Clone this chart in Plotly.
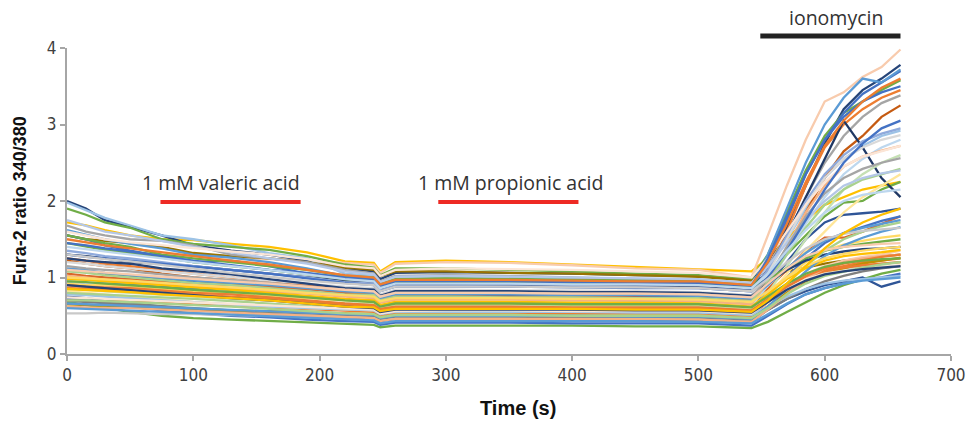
import plotly.graph_objects as go

# Time points (s)
time_s = [0, 15, 30, 50, 75, 100, 130, 160, 190, 220, 243, 248, 260, 300, 350, 400, 450, 500,
          542, 555, 570, 585, 600, 615, 630, 645, 660]

# Fura-2 ratio 340/380 per cell
cell_01 = [1.72, 1.68, 1.62, 1.55, 1.50, 1.49, 1.44, 1.40, 1.33, 1.21, 1.19, 1.08, 1.20, 1.22, 1.20, 1.17, 1.14, 1.11,
           1.08, 1.25, 1.50, 1.75, 1.95, 2.05, 2.15, 2.20, 2.25]
cell_02 = [1.45, 1.42, 1.38, 1.33, 1.30, 1.28, 1.26, 1.24, 1.22, 1.19, 1.17, 1.06, 1.18, 1.20, 1.19, 1.16, 1.12, 1.10,
           1.00, 1.55, 2.20, 2.80, 3.30, 3.42, 3.62, 3.75, 3.98]
cell_03 = [2.00, 1.90, 1.75, 1.66, 1.55, 1.42, 1.35, 1.30, 1.22, 1.12, 1.08, 0.98, 1.06, 1.07, 1.06, 1.05, 1.03, 1.02,
           0.98, 1.20, 1.65, 2.20, 2.75, 3.20, 3.45, 3.60, 3.78]
cell_04 = [1.98, 1.88, 1.78, 1.68, 1.55, 1.50, 1.42, 1.32, 1.25, 1.05, 1.02, 0.92, 1.00, 1.01, 1.00, 0.99, 0.98, 0.97,
           0.92, 1.15, 1.50, 1.90, 2.30, 2.55, 2.72, 2.85, 2.92]
cell_05 = [1.90, 1.82, 1.72, 1.65, 1.50, 1.44, 1.40, 1.36, 1.28, 1.17, 1.13, 1.03, 1.12, 1.12, 1.10, 1.08, 1.05, 1.03,
           0.98, 1.30, 1.85, 2.40, 2.85, 3.15, 3.30, 3.45, 3.58]
cell_06 = [1.55, 1.50, 1.48, 1.45, 1.40, 1.32, 1.28, 1.25, 1.20, 1.13, 1.10, 1.02, 1.08, 1.08, 1.06, 1.05, 1.03, 1.01,
           0.96, 1.02, 1.08, 1.13, 1.18, 1.22, 1.25, 1.28, 1.30]
cell_07 = [1.68, 1.60, 1.55, 1.50, 1.48, 1.42, 1.30, 1.25, 1.20, 1.10, 1.05, 0.95, 1.02, 1.03, 1.02, 1.00, 0.98, 0.96,
           0.92, 1.15, 1.55, 2.05, 2.50, 2.85, 3.10, 3.28, 3.38]
cell_08 = [1.55, 1.50, 1.42, 1.35, 1.28, 1.20, 1.22, 1.15, 1.05, 0.98, 0.95, 0.86, 0.93, 0.93, 0.92, 0.92, 0.91, 0.90,
           0.86, 1.20, 1.75, 2.35, 2.80, 3.15, 3.40, 3.55, 3.70]
cell_09 = [1.62, 1.56, 1.50, 1.44, 1.38, 1.30, 1.26, 1.20, 1.12, 1.02, 0.98, 0.88, 0.96, 0.97, 0.96, 0.95, 0.94, 0.93,
           0.88, 1.30, 1.90, 2.50, 3.00, 3.35, 3.60, 3.55, 3.72]
cell_10 = [1.25, 1.22, 1.18, 1.15, 1.10, 1.05, 1.00, 0.95, 0.90, 0.85, 0.82, 0.74, 0.80, 0.81, 0.80, 0.80, 0.79, 0.78,
           0.74, 1.05, 1.60, 2.20, 2.70, 3.00, 3.20, 3.35, 3.45]
cell_11 = [1.22, 1.18, 1.15, 1.12, 1.05, 1.00, 0.96, 0.92, 0.88, 0.84, 0.82, 0.75, 0.80, 0.80, 0.79, 0.78, 0.77, 0.76,
           0.73, 0.95, 1.35, 1.85, 2.30, 2.65, 2.85, 3.10, 3.25]
cell_12 = [1.55, 1.50, 1.45, 1.40, 1.30, 1.25, 1.20, 1.15, 1.10, 1.02, 1.00, 0.92, 0.98, 0.99, 0.98, 0.97, 0.96, 0.95,
           0.90, 1.05, 1.30, 1.55, 1.80, 1.98, 2.00, 2.15, 2.25]
cell_13 = [1.30, 1.28, 1.25, 1.20, 1.18, 1.15, 1.10, 1.05, 1.00, 0.95, 0.92, 0.84, 0.90, 0.90, 0.89, 0.88, 0.88, 0.87,
           0.84, 1.10, 1.55, 2.05, 2.55, 3.05, 2.70, 2.30, 2.05]
cell_14 = [1.10, 1.08, 1.05, 1.02, 0.98, 0.95, 0.92, 0.88, 0.85, 0.82, 0.80, 0.73, 0.78, 0.78, 0.77, 0.77, 0.76, 0.75,
           0.72, 0.90, 1.20, 1.50, 1.72, 1.82, 1.84, 1.86, 1.90]
cell_15 = [1.05, 1.02, 1.00, 0.98, 0.95, 0.92, 0.90, 0.88, 0.85, 0.80, 0.78, 0.72, 0.76, 0.76, 0.75, 0.75, 0.74, 0.73,
           0.70, 0.85, 1.10, 1.35, 1.52, 1.52, 1.60, 1.70, 1.80]
cell_16 = [0.95, 0.93, 0.92, 0.90, 0.88, 0.86, 0.84, 0.82, 0.80, 0.76, 0.74, 0.68, 0.72, 0.72, 0.72, 0.71, 0.70, 0.70,
           0.66, 0.80, 1.00, 1.25, 1.45, 1.58, 1.66, 1.74, 1.80]
cell_17 = [0.68, 0.64, 0.60, 0.55, 0.50, 0.47, 0.45, 0.43, 0.41, 0.39, 0.38, 0.35, 0.37, 0.37, 0.37, 0.37, 0.36, 0.36,
           0.34, 0.42, 0.55, 0.68, 0.80, 0.90, 0.98, 1.05, 1.10]
cell_18 = [0.72, 0.70, 0.66, 0.62, 0.57, 0.53, 0.50, 0.48, 0.45, 0.43, 0.42, 0.38, 0.41, 0.41, 0.41, 0.40, 0.40, 0.40,
           0.37, 0.50, 0.65, 0.78, 0.86, 0.92, 0.97, 1.00, 1.05]
cell_19 = [0.75, 0.73, 0.70, 0.67, 0.62, 0.58, 0.55, 0.52, 0.50, 0.48, 0.47, 0.43, 0.46, 0.46, 0.46, 0.45, 0.45, 0.45,
           0.42, 0.58, 0.72, 0.82, 0.90, 0.95, 1.00, 0.88, 0.95]
cell_20 = [0.53, 0.53, 0.54, 0.53, 0.52, 0.52, 0.51, 0.50, 0.50, 0.49, 0.49, 0.45, 0.48, 0.48, 0.48, 0.48, 0.47, 0.47,
           0.45, 0.62, 0.80, 0.95, 1.05, 1.10, 1.15, 1.18, 1.20]
cell_21 = [0.70, 0.69, 0.68, 0.70, 0.67, 0.65, 0.63, 0.60, 0.58, 0.56, 0.55, 0.51, 0.54, 0.54, 0.54, 0.53, 0.53, 0.53,
           0.50, 0.68, 0.88, 1.02, 1.10, 1.15, 1.20, 1.22, 1.25]
cell_22 = [0.82, 0.80, 0.78, 0.75, 0.72, 0.68, 0.65, 0.62, 0.60, 0.58, 0.57, 0.53, 0.56, 0.56, 0.56, 0.55, 0.55, 0.55,
           0.52, 0.75, 1.05, 1.35, 1.60, 1.85, 2.05, 2.20, 2.35]
cell_23 = [0.88, 0.86, 0.84, 0.82, 0.78, 0.76, 0.72, 0.70, 0.66, 0.63, 0.62, 0.57, 0.61, 0.61, 0.60, 0.60, 0.60, 0.59,
           0.56, 0.72, 0.90, 1.05, 1.15, 1.22, 1.27, 1.30, 1.35]
cell_24 = [0.85, 0.84, 0.82, 0.80, 0.77, 0.75, 0.72, 0.70, 0.68, 0.66, 0.65, 0.60, 0.64, 0.64, 0.63, 0.63, 0.63, 0.62,
           0.59, 0.80, 1.15, 1.50, 1.85, 2.15, 2.35, 2.50, 2.60]
cell_25 = [0.95, 0.93, 0.90, 0.88, 0.85, 0.82, 0.80, 0.77, 0.74, 0.71, 0.70, 0.64, 0.68, 0.68, 0.68, 0.67, 0.67, 0.66,
           0.62, 0.90, 1.30, 1.70, 2.05, 2.35, 2.55, 2.70, 2.80]
cell_26 = [0.70, 0.68, 0.67, 0.65, 0.62, 0.60, 0.57, 0.55, 0.53, 0.51, 0.50, 0.46, 0.49, 0.49, 0.49, 0.48, 0.48, 0.48,
           0.45, 0.58, 0.72, 0.85, 0.95, 1.02, 1.08, 1.12, 1.15]
cell_27 = [0.65, 0.64, 0.63, 0.62, 0.60, 0.59, 0.57, 0.56, 0.55, 0.53, 0.52, 0.48, 0.51, 0.51, 0.51, 0.50, 0.50, 0.50,
           0.47, 0.62, 0.80, 0.95, 1.05, 1.12, 1.18, 1.22, 1.26]
cell_28 = [1.12, 1.10, 1.06, 1.03, 1.00, 0.96, 0.93, 0.90, 0.86, 0.82, 0.80, 0.73, 0.78, 0.78, 0.78, 0.77, 0.77, 0.76,
           0.72, 0.90, 1.12, 1.32, 1.48, 1.58, 1.65, 1.70, 1.75]
cell_29 = [1.02, 1.00, 0.97, 0.95, 0.92, 0.88, 0.85, 0.82, 0.79, 0.75, 0.73, 0.67, 0.71, 0.71, 0.71, 0.70, 0.70, 0.69,
           0.65, 0.95, 1.40, 1.85, 2.20, 2.45, 2.58, 2.66, 2.72]
cell_30 = [1.08, 1.06, 1.03, 1.00, 0.96, 0.93, 0.90, 0.86, 0.82, 0.78, 0.77, 0.70, 0.75, 0.75, 0.74, 0.74, 0.73, 0.73,
           0.69, 0.95, 1.30, 1.65, 1.95, 2.15, 2.28, 2.35, 2.42]
cell_31 = [0.92, 0.90, 0.90, 0.88, 0.85, 0.82, 0.80, 0.76, 0.73, 0.70, 0.68, 0.62, 0.66, 0.66, 0.66, 0.65, 0.65, 0.65,
           0.61, 0.78, 1.00, 1.20, 1.35, 1.43, 1.48, 1.52, 1.55]
cell_32 = [1.35, 1.32, 1.28, 1.25, 1.20, 1.15, 1.10, 1.05, 1.00, 0.94, 0.92, 0.83, 0.89, 0.89, 0.88, 0.88, 0.87, 0.86,
           0.82, 1.10, 1.55, 2.00, 2.35, 2.60, 2.78, 2.88, 2.95]
cell_33 = [1.20, 1.18, 1.15, 1.12, 1.08, 1.04, 1.00, 0.96, 0.92, 0.88, 0.86, 0.78, 0.84, 0.84, 0.83, 0.83, 0.82, 0.81,
           0.77, 1.05, 1.50, 1.95, 2.30, 2.55, 2.70, 2.80, 2.86]
cell_34 = [1.45, 1.40, 1.36, 1.32, 1.26, 1.20, 1.15, 1.10, 1.04, 0.98, 0.96, 0.88, 0.94, 0.94, 0.93, 0.92, 0.92, 0.91,
           0.87, 0.98, 1.12, 1.25, 1.35, 1.40, 1.44, 1.47, 1.50]
cell_35 = [1.75, 1.68, 1.60, 1.55, 1.48, 1.40, 1.33, 1.25, 1.18, 1.08, 1.04, 0.94, 1.01, 1.02, 1.01, 1.00, 0.99, 0.98,
           0.93, 1.15, 1.45, 1.75, 2.00, 2.20, 2.30, 2.36, 2.40]
cell_36 = [0.90, 0.88, 0.87, 0.86, 0.83, 0.80, 0.78, 0.74, 0.70, 0.66, 0.64, 0.59, 0.62, 0.62, 0.62, 0.61, 0.61, 0.61,
           0.57, 0.72, 0.88, 1.00, 1.08, 1.13, 1.16, 1.18, 1.20]
cell_37 = [0.78, 0.77, 0.75, 0.73, 0.70, 0.68, 0.65, 0.62, 0.60, 0.58, 0.57, 0.52, 0.55, 0.55, 0.55, 0.55, 0.54, 0.54,
           0.51, 0.62, 0.75, 0.85, 0.92, 0.96, 0.98, 1.00, 1.02]
cell_38 = [1.60, 1.55, 1.50, 1.46, 1.42, 1.38, 1.34, 1.30, 1.24, 1.15, 1.12, 1.02, 1.10, 1.12, 1.11, 1.10, 1.08, 1.06,
           1.00, 1.25, 1.60, 1.95, 2.25, 2.45, 2.58, 2.65, 2.72]
cell_39 = [0.98, 0.97, 0.95, 0.93, 0.90, 0.87, 0.84, 0.80, 0.76, 0.72, 0.70, 0.64, 0.68, 0.68, 0.68, 0.67, 0.67, 0.66,
           0.62, 0.78, 0.98, 1.12, 1.22, 1.28, 1.31, 1.33, 1.36]
cell_40 = [1.25, 1.22, 1.20, 1.18, 1.12, 1.08, 1.04, 0.98, 0.92, 0.86, 0.84, 0.76, 0.82, 0.82, 0.82, 0.81, 0.81, 0.80,
           0.76, 0.92, 1.10, 1.22, 1.30, 1.34, 1.37, 1.38, 1.40]
cell_41 = [0.62, 0.61, 0.60, 0.60, 0.58, 0.56, 0.54, 0.52, 0.50, 0.48, 0.47, 0.43, 0.46, 0.46, 0.46, 0.46, 0.46, 0.45,
           0.42, 0.58, 0.78, 0.98, 1.12, 1.20, 1.25, 1.28, 1.30]
cell_42 = [0.66, 0.65, 0.64, 0.63, 0.61, 0.60, 0.58, 0.56, 0.54, 0.52, 0.51, 0.47, 0.50, 0.50, 0.50, 0.50, 0.49, 0.49,
           0.46, 0.62, 0.85, 1.08, 1.28, 1.42, 1.52, 1.60, 1.66]
cell_43 = [0.80, 0.79, 0.78, 0.76, 0.74, 0.72, 0.69, 0.66, 0.63, 0.60, 0.59, 0.54, 0.58, 0.58, 0.58, 0.57, 0.57, 0.57,
           0.53, 0.70, 0.92, 1.15, 1.35, 1.50, 1.60, 1.67, 1.72]
cell_44 = [1.15, 1.12, 1.10, 1.08, 1.04, 1.00, 0.97, 0.93, 0.88, 0.84, 0.82, 0.75, 0.80, 0.80, 0.80, 0.79, 0.79, 0.78,
           0.74, 1.00, 1.40, 1.80, 2.10, 2.30, 2.42, 2.50, 2.56]
cell_45 = [0.74, 0.73, 0.72, 0.71, 0.69, 0.67, 0.65, 0.63, 0.61, 0.59, 0.58, 0.53, 0.56, 0.57, 0.57, 0.56, 0.56, 0.56,
           0.53, 0.68, 0.85, 0.98, 1.05, 1.09, 1.12, 1.14, 1.16]
cell_46 = [1.30, 1.27, 1.25, 1.22, 1.18, 1.14, 1.10, 1.05, 0.99, 0.93, 0.90, 0.82, 0.88, 0.88, 0.88, 0.87, 0.86, 0.86,
           0.82, 1.00, 1.35, 1.75, 2.15, 2.50, 2.75, 2.95, 3.05]
cell_47 = [0.86, 0.85, 0.84, 0.83, 0.80, 0.78, 0.75, 0.72, 0.68, 0.64, 0.62, 0.57, 0.61, 0.61, 0.60, 0.60, 0.60, 0.59,
           0.56, 0.70, 0.88, 1.02, 1.12, 1.18, 1.23, 1.27, 1.30]
cell_48 = [0.70, 0.70, 0.69, 0.68, 0.66, 0.64, 0.62, 0.59, 0.56, 0.53, 0.52, 0.48, 0.51, 0.51, 0.51, 0.50, 0.50, 0.50,
           0.47, 0.60, 0.78, 0.92, 1.02, 1.08, 1.13, 1.17, 1.20]
cell_49 = [1.00, 0.99, 0.98, 0.96, 0.93, 0.90, 0.87, 0.84, 0.80, 0.77, 0.75, 0.69, 0.73, 0.73, 0.73, 0.72, 0.72, 0.71,
           0.68, 0.82, 1.00, 1.15, 1.25, 1.31, 1.35, 1.38, 1.40]
cell_50 = [0.60, 0.59, 0.58, 0.57, 0.55, 0.53, 0.51, 0.49, 0.47, 0.45, 0.44, 0.40, 0.43, 0.43, 0.43, 0.43, 0.43, 0.42,
           0.40, 0.52, 0.66, 0.78, 0.86, 0.92, 0.96, 0.98, 1.00]
cell_51 = [1.10, 1.08, 1.06, 1.04, 1.01, 0.98, 0.95, 0.92, 0.88, 0.84, 0.82, 0.75, 0.80, 0.80, 0.80, 0.79, 0.79, 0.78,
           0.74, 0.92, 1.12, 1.28, 1.36, 1.40, 1.42, 1.44, 1.45]
cell_52 = [0.90, 0.88, 0.86, 0.84, 0.80, 0.77, 0.73, 0.70, 0.66, 0.62, 0.60, 0.55, 0.58, 0.58, 0.58, 0.58, 0.57, 0.57,
           0.54, 0.68, 0.84, 0.96, 1.04, 1.08, 1.11, 1.13, 1.15]
cell_53 = [1.30, 1.27, 1.24, 1.21, 1.16, 1.11, 1.06, 1.01, 0.96, 0.92, 0.90, 0.82, 0.88, 0.88, 0.88, 0.87, 0.87, 0.86,
           0.82, 0.98, 1.20, 1.38, 1.50, 1.57, 1.61, 1.63, 1.65]
cell_54 = [0.95, 0.94, 0.92, 0.90, 0.87, 0.84, 0.81, 0.78, 0.74, 0.70, 0.68, 0.62, 0.66, 0.66, 0.66, 0.65, 0.65, 0.65,
           0.61, 0.75, 0.92, 1.05, 1.14, 1.19, 1.22, 1.24, 1.25]
cell_55 = [1.45, 1.42, 1.38, 1.34, 1.28, 1.22, 1.16, 1.10, 1.06, 1.00, 0.98, 0.89, 0.95, 0.95, 0.95, 0.94, 0.93, 0.93,
           0.89, 1.25, 1.80, 2.35, 2.80, 3.10, 3.30, 3.42, 3.50]
cell_56 = [1.50, 1.46, 1.42, 1.38, 1.33, 1.28, 1.22, 1.17, 1.10, 1.03, 1.00, 0.91, 0.97, 0.97, 0.97, 0.96, 0.95, 0.95,
           0.90, 1.20, 1.70, 2.25, 2.72, 3.05, 3.30, 3.48, 3.60]
cell_57 = [1.40, 1.37, 1.34, 1.30, 1.25, 1.20, 1.15, 1.10, 1.04, 0.98, 0.95, 0.86, 0.92, 0.92, 0.92, 0.91, 0.91, 0.90,
           0.86, 1.05, 1.35, 1.62, 1.85, 2.00, 2.08, 2.12, 2.15]
cell_58 = [0.85, 0.84, 0.83, 0.81, 0.78, 0.76, 0.73, 0.70, 0.66, 0.62, 0.61, 0.56, 0.59, 0.59, 0.59, 0.59, 0.58, 0.58,
           0.55, 0.70, 0.92, 1.15, 1.38, 1.58, 1.72, 1.82, 1.90]

cells = [cell_01, cell_02, cell_03, cell_04, cell_05, cell_06, cell_07, cell_08, cell_09, cell_10,
         cell_11, cell_12, cell_13, cell_14, cell_15, cell_16, cell_17, cell_18, cell_19, cell_20,
         cell_21, cell_22, cell_23, cell_24, cell_25, cell_26, cell_27, cell_28, cell_29, cell_30,
         cell_31, cell_32, cell_33, cell_34, cell_35, cell_36, cell_37, cell_38, cell_39, cell_40,
         cell_41, cell_42, cell_43, cell_44, cell_45, cell_46, cell_47, cell_48, cell_49, cell_50,
         cell_51, cell_52, cell_53, cell_54, cell_55, cell_56, cell_57, cell_58]

cell_colors = ["#FFC000", "#F8CBAD", "#264478", "#9DC3E6", "#70AD47", "#997300", "#A5A5A5", "#4472C4",
               "#5B9BD5", "#ED7D31", "#C55A11", "#70AD47", "#203864", "#2F5597", "#D9662A", "#4472C4",
               "#70AD47", "#4472C4", "#2F5597", "#C9C9C9", "#ED7D31", "#FFE699", "#F8CBAD", "#C5E0B4",
               "#BDD7EE", "#7F7F7F", "#BF9000", "#5B9BD5", "#F4B183", "#A9D18E", "#FFD966", "#8FAADC",
               "#D9D9D9", "#70AD47", "#B4C7E7", "#ED7D31", "#9DC3E6", "#FBE5D6", "#FFC000", "#264478",
               "#F4B183", "#5B9BD5", "#A9D18E", "#A5A5A5", "#FBE5D6", "#4472C4", "#ED7D31", "#A9D18E",
               "#FFD966", "#5B9BD5", "#F8CBAD", "#264478", "#C9C9C9", "#70AD47", "#4472C4", "#ED7D31",
               "#BDD7EE", "#FFC000"]

# Treatment bars: label, start, end (s), label centre (s)
treatments = ["1 mM valeric acid", "1 mM propionic acid", "ionomycin"]
treat_start = [74, 294, 549]
treat_end = [185, 405, 660]
label_centre = [122, 351, 609]

fig = go.Figure()
for vals, col in zip(cells, cell_colors):
    fig.add_trace(go.Scatter(x=time_s, y=vals, mode="lines",
                             line=dict(color=col, width=2.3), showlegend=False, hoverinfo="skip"))

axis_col = "#A6A6A6"
tick_font = dict(family="Liberation Sans Narrow, DejaVu Sans Condensed, Liberation Sans, sans-serif",
                 size=17, color="#404040")

fig.update_layout(
    width=978, height=424,
    margin=dict(l=67, r=23, t=48, b=70),
    paper_bgcolor="white", plot_bgcolor="white",
    showlegend=False,
    xaxis=dict(range=[0, 700], tickvals=[0, 100, 200, 300, 400, 500, 600, 700],
               showgrid=False, zeroline=False, showline=True, linecolor=axis_col, linewidth=2,
               ticks="outside", ticklen=5, tickcolor=axis_col, tickwidth=1.5,
               tickfont=tick_font),
    yaxis=dict(range=[0, 4], tickvals=[0, 1, 2, 3, 4],
               showgrid=False, zeroline=False, showline=True, linecolor=axis_col, linewidth=2,
               ticks="outside", ticklen=5, tickcolor=axis_col, tickwidth=1.5,
               tickfont=tick_font),
)

# Axis titles
fig.add_annotation(xref="paper", yref="paper", x=(520 - 67) / 888, y=-(408 - 354) / 306,
                   text="<b>Time (s)</b>", showarrow=False, xanchor="center", yanchor="middle",
                   font=dict(family="Liberation Sans Narrow, Liberation Sans, sans-serif", size=20, color="#111111"))
fig.add_annotation(xref="paper", yref="paper", x=-(67 - 20) / 888, y=0.5, textangle=-90,
                   text="<b>Fura-2 ratio 340/380</b>", showarrow=False, xanchor="center", yanchor="middle",
                   font=dict(family="Liberation Sans, sans-serif", size=18, color="#111111"))

bar_y_px = [202, 202, 36]
text_y_px = [182, 182, 18]
bar_colors = ["#EE2A24", "#EE2A24", "#222222"]
for lab, x0, x1, xc, byp, typ, bc in zip(treatments, treat_start, treat_end, label_centre,
                                          bar_y_px, text_y_px, bar_colors):
    ypaper = (354 - byp) / 306
    fig.add_shape(type="line", xref="x", yref="paper", x0=x0, x1=x1, y0=ypaper, y1=ypaper,
                  line=dict(color=bc, width=4 if lab != "ionomycin" else 5))
    fig.add_annotation(xref="x", yref="paper", x=xc, y=(354 - typ) / 306, text=lab,
                       showarrow=False, xanchor="center", yanchor="middle",
                       font=dict(family="Open Sans, sans-serif", size=19.5, color="#333333"))

fig.write_html("out.html")
